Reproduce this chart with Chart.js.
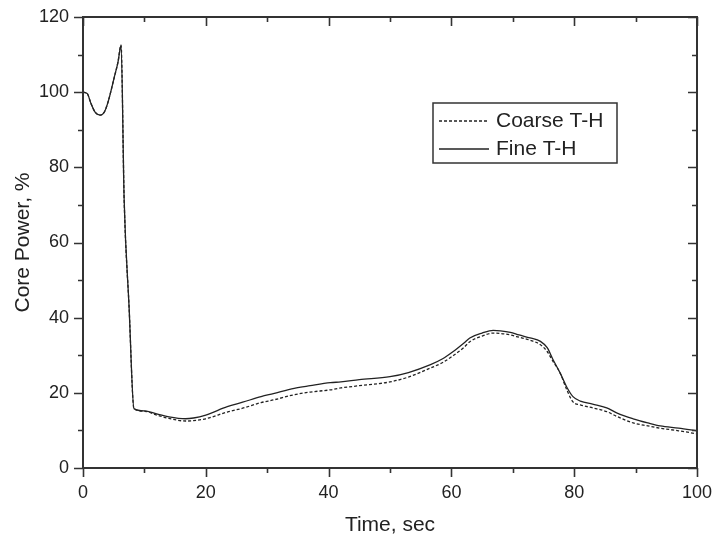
<!DOCTYPE html>
<html>
<head>
<meta charset="utf-8">
<script src="https://cdn.jsdelivr.net/npm/chart.js@4/dist/chart.umd.min.js"></script>
<style>
  html, body { margin: 0; padding: 0; background: #fff; }
  #wrap { width: 713px; height: 538px; }
</style>
</head>
<body>
<div id="wrap"><canvas id="chart" width="713" height="538"></canvas></div>
<script>
// --- data ---
const timeSec = [0, 0.7, 1.3, 2, 2.8, 3.5, 4.1, 5.1, 5.7, 6.2, 6.7, 7.5, 8.3, 10, 12, 14, 16.7, 18, 20, 23.5, 26, 29, 31, 34.4, 37, 40.3, 42, 45, 50, 53, 56.6, 58.5, 60.3, 62, 63, 65, 66.8, 68, 69.6, 71, 72.8, 74.5, 75.6, 76.5, 77.7, 78.8, 79.8, 81, 83, 85.3, 87, 89.6, 92, 94, 97, 100];

const coarsePower = [100, 99.6, 97, 94.6, 93.9, 94.8, 97.5, 104, 108, 112.5, 71.5, 43, 15.8, 15.1, 14.1, 13.2, 12.5, 12.6, 13.1, 14.9, 15.9, 17.4, 18.1, 19.5, 20.2, 20.8, 21.3, 21.9, 22.9, 24.2, 26.6, 28, 29.9, 32, 33.6, 35.1, 35.9, 35.8, 35.4, 34.8, 34, 32.8, 31, 28.5, 25.3, 20.8, 17.6, 16.8, 16, 15, 13.7, 12, 11.2, 10.6, 9.9, 9.1];

const finePower = [100, 99.6, 97, 94.6, 93.9, 94.8, 97.5, 104, 108, 112.5, 71.5, 43, 15.8, 15.2, 14.4, 13.6, 13.1, 13.3, 14.1, 16.3, 17.5, 19, 19.8, 21.2, 21.9, 22.7, 22.9, 23.5, 24.3, 25.4, 27.5, 29, 31, 33.2, 34.6, 35.9, 36.6, 36.5, 36.1, 35.4, 34.6, 33.7, 32, 29, 25.3, 21.5, 19, 17.8, 17, 16, 14.6, 13.1, 12, 11.2, 10.6, 9.9];

const xTicks = [0, 20, 40, 60, 80, 100];
const yTicks = [0, 20, 40, 60, 80, 100, 120];
const seriesNames = ['Coarse T-H', 'Fine T-H'];

const FONT = '"Liberation Sans", Arial, Helvetica, sans-serif';
const INK = '#222';

function toPoints(xs, ys) {
    return xs.map((x, i) => ({ x: x, y: ys[i] }));
}

// --- frame with major/minor ticks (outside on left/bottom, inside on top/right) ---
const framePlugin = {
    id: 'frame',
    afterDatasetsDraw(chart) {
        const { ctx, chartArea: a, scales } = chart;
        const xs = scales.x, ys = scales.y;
        ctx.save();
        ctx.strokeStyle = '#333';
        ctx.lineWidth = 2;
        ctx.strokeRect(a.left, a.top, a.right - a.left, a.bottom - a.top);
        ctx.lineWidth = 1.6;
        ctx.beginPath();
        for (let v = 0; v <= 100; v += 10) {
            const px = Math.round(xs.getPixelForValue(v)) + 0.5;
            const len = v % 20 === 0 ? 9 : 5;
            ctx.moveTo(px, a.bottom); ctx.lineTo(px, a.bottom + len);
            ctx.moveTo(px, a.top); ctx.lineTo(px, a.top + len);
        }
        for (let v = 0; v <= 120; v += 10) {
            const py = Math.round(ys.getPixelForValue(v)) + 0.5;
            const len = v % 20 === 0 ? 9 : 5;
            ctx.moveTo(a.left, py); ctx.lineTo(a.left - len, py);
            ctx.moveTo(a.right, py); ctx.lineTo(a.right - len, py);
        }
        ctx.stroke();
        ctx.restore();
    }
};

// --- boxed legend inside the plot ---
const legendPlugin = {
    id: 'boxLegend',
    afterDraw(chart) {
        const { ctx } = chart;
        const box = { x: 433, y: 103, w: 184, h: 60 };
        ctx.save();
        ctx.fillStyle = '#fff';
        ctx.fillRect(box.x, box.y, box.w, box.h);
        ctx.strokeStyle = '#333';
        ctx.lineWidth = 1.5;
        ctx.strokeRect(box.x, box.y, box.w, box.h);
        ctx.font = '21px ' + FONT;
        ctx.textBaseline = 'middle';
        ctx.fillStyle = INK;
        chart.data.datasets.forEach((ds, i) => {
            const y = box.y + 18 + i * 28;
            ctx.beginPath();
            ctx.setLineDash(ds.borderDash || []);
            ctx.lineWidth = ds.borderWidth;
            ctx.strokeStyle = ds.borderColor;
            ctx.moveTo(box.x + 6, y);
            ctx.lineTo(box.x + 56, y);
            ctx.stroke();
            ctx.setLineDash([]);
            ctx.fillText(ds.label, box.x + 63, y);
        });
        ctx.restore();
    }
};

new Chart(document.getElementById('chart'), {
    type: 'line',
    data: {
        datasets: [
            {
                label: seriesNames[0],
                data: toPoints(timeSec, coarsePower),
                borderColor: INK,
                borderWidth: 1.3,
                borderDash: [3, 2],
                pointRadius: 0,
                cubicInterpolationMode: 'monotone',
                fill: false
            },
            {
                label: seriesNames[1],
                data: toPoints(timeSec, finePower),
                borderColor: INK,
                borderWidth: 1.3,
                pointRadius: 0,
                cubicInterpolationMode: 'monotone',
                fill: false
            }
        ]
    },
    options: {
        responsive: false,
        animation: false,
        devicePixelRatio: 1,
        layout: { padding: { top: 17, right: 16, left: 0, bottom: 0 } },
        plugins: {
            legend: { display: false },
            tooltip: { enabled: false }
        },
        scales: {
            x: {
                type: 'linear',
                min: 0, max: 100,
                afterFit(scale) {
                    scale.height = 70;
                    scale.paddingLeft = 0;
                    scale.paddingRight = 0;
                },
                afterBuildTicks(scale) { scale.ticks = xTicks.map(v => ({ value: v })); },
                grid: { display: false, drawTicks: false },
                border: { display: false },
                ticks: { color: INK, font: { family: FONT, size: 18 }, padding: 14, maxRotation: 0 },
                title: { display: true, text: 'Time, sec', color: INK, font: { family: FONT, size: 21 }, padding: { top: 0, bottom: 0 } }
            },
            y: {
                type: 'linear',
                min: 0, max: 120,
                afterFit(scale) {
                    scale.width = 83;
                    scale.paddingTop = 0;
                    scale.paddingBottom = 0;
                },
                afterBuildTicks(scale) { scale.ticks = yTicks.map(v => ({ value: v })); },
                grid: { display: false, drawTicks: false },
                border: { display: false },
                ticks: { color: INK, font: { family: FONT, size: 18 }, padding: 14 },
                title: { display: true, text: 'Core Power, %', color: INK, font: { family: FONT, size: 21 }, padding: { top: 11, bottom: 0 } }
            }
        }
    },
    plugins: [framePlugin, legendPlugin]
});
</script>
</body>
</html>
